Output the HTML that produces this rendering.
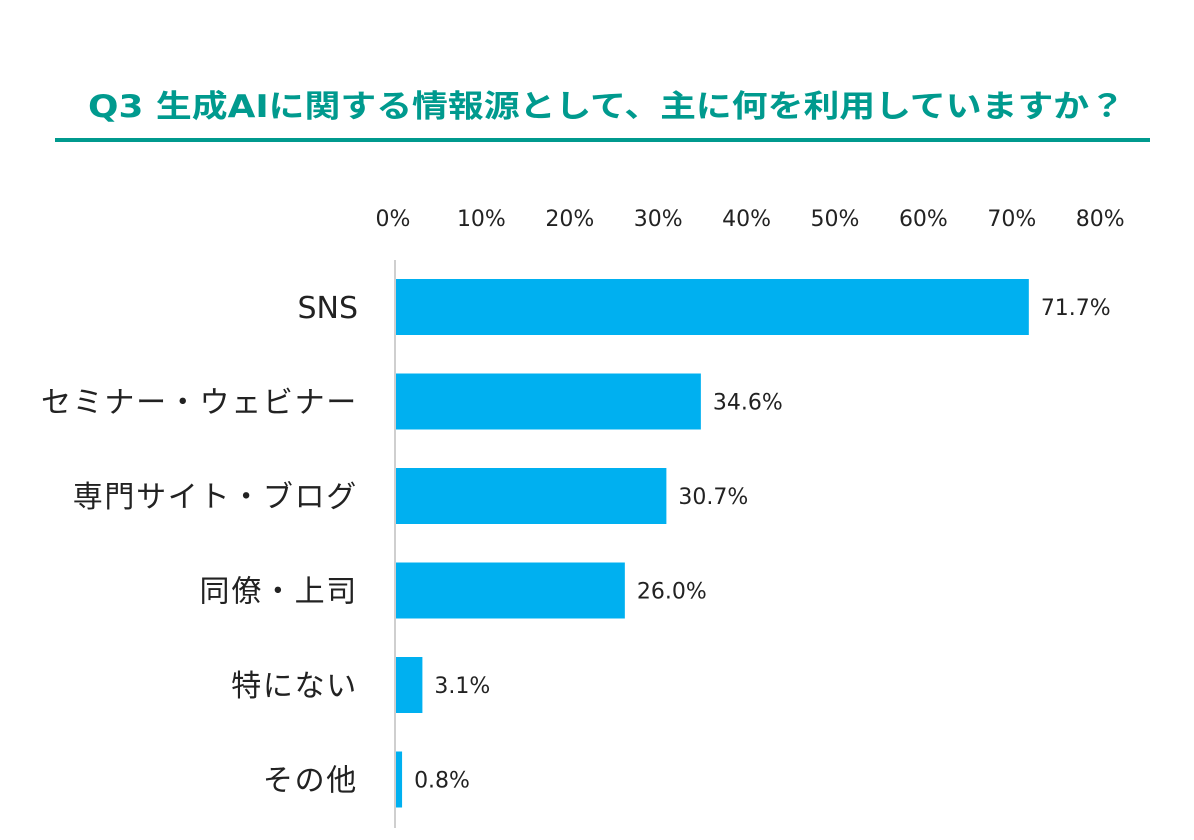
<!DOCTYPE html>
<html><head><meta charset="utf-8">
<style>
body{margin:0;background:#fff;}
svg text{font-family:"DejaVu Sans","Noto Sans CJK JP",sans-serif;}
</style></head>
<body>
<svg id="chart" width="1194" height="835" xmlns="http://www.w3.org/2000/svg">
<text x="88" y="117" font-size="31" font-weight="bold" fill="#009a8e" textLength="1037" lengthAdjust="spacingAndGlyphs">Q3 生成AIに関する情報源として、主に何を利用していますか？</text>
<rect x="55" y="138" width="1095" height="4" fill="#009a8e"/>
<line x1="395" y1="260" x2="395" y2="828" stroke="#bfbfbf" stroke-width="1.5"/>
<g id="ticks"></g>
<g id="bars"></g>
</svg>
<script>
const categories=["SNS","セミナー・ウェビナー","専門サイト・ブログ","同僚・上司","特にない","その他"];
const values=[71.7,34.6,30.7,26.0,3.1,0.8];
const tickValues=[0,10,20,30,40,50,60,70,80];
const x0=395,pxPer=8.84;
function xs(v){return x0+v*pxPer;}
function yc(i){return 307+i*94.5;}
const NS="http://www.w3.org/2000/svg";
const tg=document.getElementById('ticks'),bg=document.getElementById('bars');
tickValues.forEach(t=>{
 const el=document.createElementNS(NS,'text');
 el.setAttribute('x',xs(t)-2);el.setAttribute('y',226);
 el.setAttribute('text-anchor','middle');el.setAttribute('font-size','22');el.setAttribute('fill','#222');
 el.textContent=t+'%';
 
 
 tg.appendChild(el);
});
categories.forEach((c,i)=>{
 const r=document.createElementNS(NS,'rect');
 r.setAttribute('x',x0+1);r.setAttribute('y',yc(i)-28);
 r.setAttribute('width',Math.max(xs(values[i])-x0-1,0));r.setAttribute('height',56);
 r.setAttribute('fill','#00b0f0');
 
 
 bg.appendChild(r);
 const l=document.createElementNS(NS,'text');
 l.setAttribute('x',358);l.setAttribute('y',yc(i)+11);
 l.setAttribute('text-anchor','end');l.setAttribute('font-size','30');l.setAttribute('fill','#222');
 l.setAttribute('letter-spacing', c==='SNS' ? '0' : '1.7');
 l.textContent=c;
 
 
 bg.appendChild(l);
 const v=document.createElementNS(NS,'text');
 v.setAttribute('x',xs(values[i])+12);v.setAttribute('y',yc(i)+8);
 v.setAttribute('font-size','22');v.setAttribute('fill','#222');
 v.textContent=values[i].toFixed(1)+'%';
 
 
 bg.appendChild(v);
});
</script>
</body></html>
